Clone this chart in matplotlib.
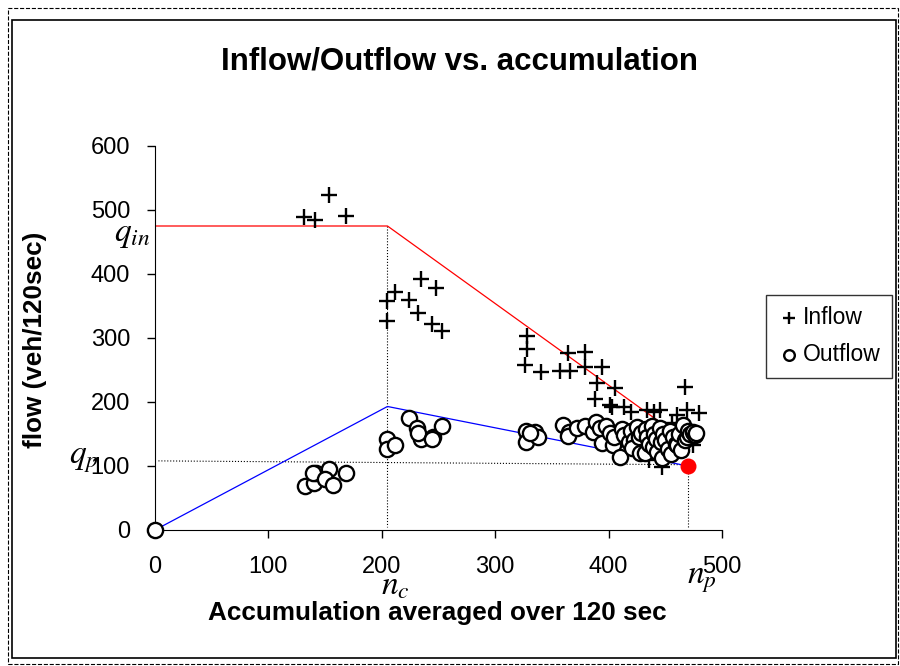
import numpy as np
import matplotlib
matplotlib.use("Agg")
import matplotlib.pyplot as plt
from matplotlib.patches import Rectangle

plt.rcParams['font.family'] = ['Liberation Sans', 'DejaVu Sans']
plt.rcParams['mathtext.fontset'] = 'stix'

# inflow (+) points: accumulation, flow
inflow_n = [131, 141, 153, 168,
            205, 205, 212, 224, 232, 235, 244, 248, 253,
            326, 328, 328, 340, 357, 364, 366, 379, 379, 388, 390, 394, 401,
            403, 406, 414, 420, 434, 440, 445, 447, 456, 460, 467, 469, 474, 480,
            436, 452, 462, 470]
inflow_q = [489, 484, 523, 490,
            358, 327, 372, 359, 339, 392, 322, 378, 311,
            258, 283, 303, 247, 248, 276, 248, 278, 255, 205, 230, 255, 195,
            192, 222, 192, 184, 188, 185, 188, 98, 167, 180, 224, 188, 133, 183,
            110, 120, 128, 138]

# outflow (o) points
outflow_n = [0,
             132, 140, 142, 139, 153, 150, 157, 168,
             205, 205, 212,
             224, 231, 235, 245, 253, 232, 244,
             327, 327, 335, 338, 331,
             360, 365, 364, 372, 379, 386, 389, 392, 394, 398, 401, 404, 405, 410,
             412, 414, 418, 420, 422, 421, 425, 427, 428, 429, 432, 433, 434, 436,
             438, 439, 440, 442, 443, 445, 446, 447, 448, 450, 452, 454, 455, 457,
             459, 460, 462, 464, 466, 467, 469, 470, 472, 474, 476, 477]
outflow_q = [0,
             68, 73, 89, 89, 95, 80, 70, 89,
             142, 127, 133,
             175, 159, 142, 145, 162, 152, 142,
             155, 138, 153, 145, 152,
             164, 153, 147, 160, 162, 153, 169, 160, 136, 162, 151, 133, 145, 114,
             158, 148, 138, 155, 141, 128, 161, 145, 120, 151, 120, 158, 146, 135,
             163, 130, 150, 142, 122, 159, 138, 112, 150, 141, 127, 155, 118, 145,
             135, 133, 150, 125, 164, 140, 145, 155, 150, 153, 148, 152]

# model lines
inflow_line_n = [0, 205, 470]
inflow_line_q = [475, 475, 137]
outflow_line_n = [0, 205, 470]
outflow_line_q = [0, 193, 100]
n_c, n_p = 205, 470
q_in, q_p = 475, 108

fig = plt.figure(figsize=(9, 6.66), dpi=100)
ax = fig.add_axes([155/900, 1 - 530/666, (722-155)/900, (530-146)/666])

ax.plot(inflow_line_n, inflow_line_q, color='red', lw=0.9, zorder=2)
ax.plot(outflow_line_n, outflow_line_q, color='blue', lw=0.9, zorder=2)
ax.plot([n_c, n_c], [q_in, 5], color='black', lw=0.8, ls=':', zorder=1)
ax.plot([n_p, n_p], [q_p - 5, 5], color='black', lw=0.8, ls=':', zorder=1)
ax.plot([3, n_p], [q_p, 102], color='black', lw=0.8, ls=':', zorder=1)

ax.scatter(inflow_n, inflow_q, marker='+', s=140, color='black',
           linewidths=1.7, zorder=3, label='Inflow')
ax.scatter(outflow_n, outflow_q, marker='o', s=120, facecolor='white',
           edgecolor='black', linewidths=1.7, zorder=4, label='Outflow',
           clip_on=False)
ax.scatter([n_p], [100], s=110, color='red', zorder=5)

ax.set_xlim(0, 500)
ax.set_ylim(0, 600)
ax.set_xticks([0, 100, 200, 300, 400, 500])
ax.set_yticks([0, 100, 200, 300, 400, 500, 600])
ax.tick_params(labelsize=17, length=6, width=1, direction='out')
ax.tick_params(axis='y', pad=12)
ax.tick_params(axis='x', pad=13)
ax.spines['top'].set_visible(False)
ax.spines['right'].set_visible(False)

ax.text(-4, 462, r'$q_{in}$', fontsize=24, ha='right', va='center', clip_on=False)
ax.text(-50, 110, r'$q_p$', fontsize=24, ha='right', va='center', clip_on=False)
ax.text(212, -88, r'$n_c$', fontsize=24, ha='center', va='center', clip_on=False)
ax.text(482, -78, r'$n_p$', fontsize=24, ha='center', va='center', clip_on=False)

fig.text(460/900, 1 - 62/666, 'Inflow/Outflow vs. accumulation',
         fontsize=22.5, fontweight='bold', ha='center', va='center')
fig.text(437/900, 1 - 613/666, 'Accumulation averaged over 120 sec',
         fontsize=18.8, fontweight='bold', ha='center', va='center')
fig.text(35/900, 1 - 340/666, 'flow (veh/120sec)', rotation=90,
         fontsize=18.8, fontweight='bold', ha='center', va='center')

leg = fig.legend(loc='upper left', bbox_to_anchor=(766/900, 1 - 295/666),
                 fontsize=16.5, frameon=True, fancybox=False, handletextpad=0.1,
                 handlelength=1.0, borderpad=0.5, labelspacing=0.6,
                 borderaxespad=0, markerscale=0.7)
leg.get_frame().set_edgecolor('black')
leg.get_frame().set_linewidth(1.0)

fig.add_artist(Rectangle((8/900, 1 - 664/666), 890/900, 656/666,
                         transform=fig.transFigure, fill=False,
                         ls='--', lw=0.8, color='black'))
fig.add_artist(Rectangle((12/900, 1 - 658/666), 884/900, 638/666,
                         transform=fig.transFigure, fill=False,
                         lw=1.2, color='black'))

fig.savefig('out.png', dpi=100)
